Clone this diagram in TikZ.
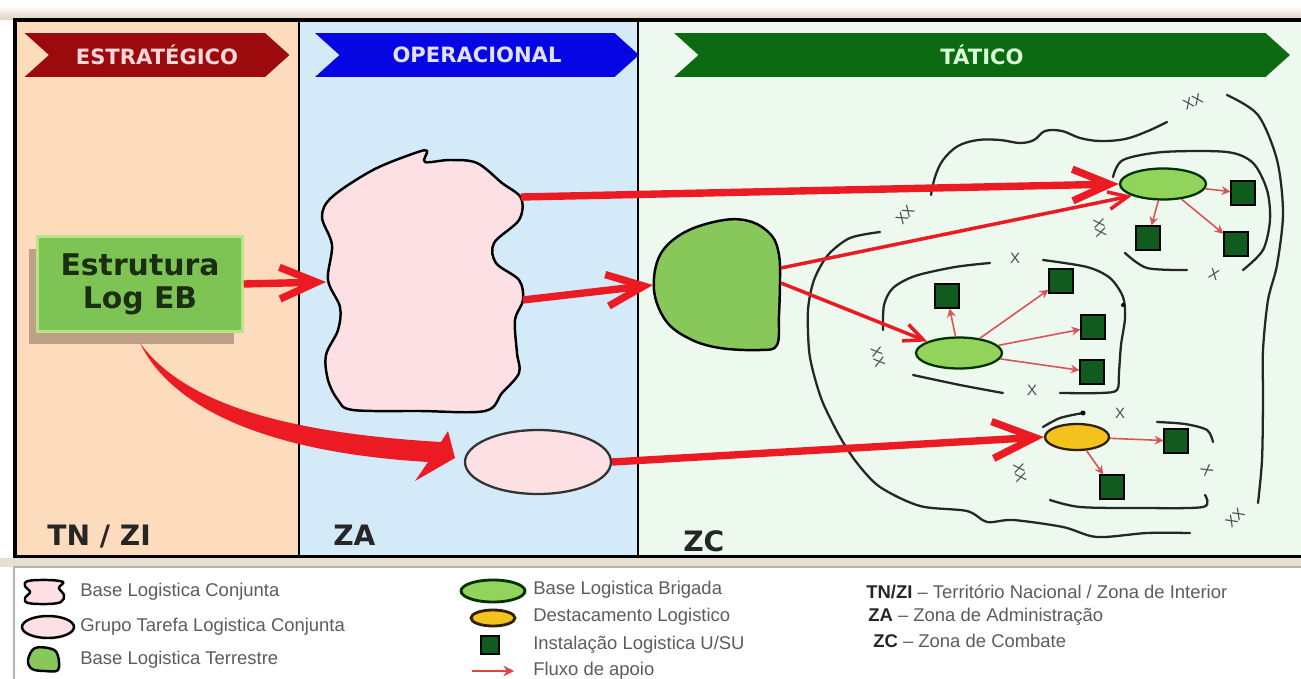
\documentclass[tikz,border=0pt]{standalone}
\usepackage{fontspec}
\setmainfont{Liberation Sans}
\newfontfamily\heavyfont{DejaVu Sans}
\usepackage{tikz}
\usetikzlibrary{
  arrows.meta,
  shapes.geometric,
  shapes.symbols,
  chains,
  positioning,
  scopes,
  shadows
}
\usepackage{color}
\definecolor{framebeige}{HTML}{DDD3BE}
\definecolor{zonepeach}{HTML}{FDDCBD}
\definecolor{zoneblue}{HTML}{D5EAF9}
\definecolor{zonegreen}{HTML}{EDF9EF}
\definecolor{bannerred}{HTML}{9C0A0E}
\definecolor{bannerblue}{HTML}{0606E4}
\definecolor{bannergreen}{HTML}{0C6A12}
\definecolor{cloudpink}{HTML}{FCE0E4}
\definecolor{blobgreen}{HTML}{88C85A}
\definecolor{brigreen}{HTML}{92D35C}
\definecolor{detyellow}{HTML}{F4C21C}
\definecolor{instgreen}{HTML}{105B1E}
\definecolor{flowred}{HTML}{EC1A22}
\definecolor{thinred}{HTML}{DA5456}
\definecolor{legendgrey}{HTML}{5C5C5C}
\definecolor{boxgreen}{HTML}{7EC455}
\definecolor{boxedge}{HTML}{B9E386}
\definecolor{boxtext}{HTML}{1C2E12}
\definecolor{shadowbrown}{HTML}{6E5A48}

\begin{document}
\begin{tikzpicture}[x=0.02cm, y=-0.02cm,
      banner/.style={
         signal, signal from=west, signal to=east,
         signal pointer angle=84,
         minimum height=0.88cm, inner sep=0pt,
         font=\heavyfont\bfseries\fontsize{12}{14}\selectfont
      },
      zone label/.style={
         anchor=base west, inner sep=0pt,
         font=\heavyfont\bfseries\fontsize{16}{18}\selectfont,
         text=black!85
      },
      logbox/.style={
         rectangle,
         minimum width=4.1cm, minimum height=1.9cm,
         fill=boxgreen, draw=boxedge, line width=1.5pt,
         align=center, text=boxtext,
         font=\heavyfont\bfseries\fontsize{17}{18.7}\selectfont,
         drop shadow={shadow xshift=-5pt, shadow yshift=-7pt,
                      fill=shadowbrown, opacity=0.45}
      },
      brigade/.style={
         ellipse, draw=black!80!green, line width=1.3pt, fill=brigreen,
         minimum width=1.72cm, minimum height=0.62cm, inner sep=0pt
      },
      detach/.style={
         ellipse, draw=black!75!brown, line width=1.3pt, fill=detyellow,
         minimum width=1.28cm, minimum height=0.52cm, inner sep=0pt
      },
      inst/.style={
         rectangle, draw=black, line width=0.6pt, fill=instgreen,
         minimum size=0.48cm, inner sep=0pt
      },
      boundary/.style={draw=black!85, line width=1.3pt, line cap=round},
      echelon/.style={inner sep=0pt, text=black!70, font=\fontsize{8.5}{9}\selectfont},
      flow/.style={draw=flowred, line width=4.2pt,
         -{Straight Barb[length=21pt,width=18pt]}},
      subflow/.style={draw=flowred, line width=2pt,
         -{Straight Barb[length=11pt,width=10pt]}},
      supply/.style={draw=thinred, line width=0.9pt,
         -{Stealth[length=5pt,width=5pt]}},
      legend text/.style={anchor=west, inner sep=0pt, text=legendgrey,
         font=\fontsize{10.5}{12}\selectfont},
      every join/.style={supply}
    ]
  \useasboundingbox (0,0) rectangle (1301,679);

  % zones and frame
  \fill[white] (0,0) rectangle (1301,679);
  \shade[top color=white, bottom color=framebeige] (0,6) rectangle (1301,20);
  \fill[zonepeach] (15,20) rectangle (299,557);
  \fill[zoneblue] (299,20) rectangle (638,557);
  \fill[zonegreen] (638,20) rectangle (1305,557);
  \draw[line width=1.8pt] (15,20) rectangle (1310,557);
  \draw[line width=1.3pt] (299,20) -- (299,557) (638,20) -- (638,557);
  \fill[framebeige!70] (0,558) rectangle (1301,567);
  \draw[gray!60, line width=1pt, fill=white] (14,690) -- (14,567) -- (1310,567) -- (1310,690);

  % banners
  \node (bstr) [banner, fill=bannerred, text=red!15, minimum width=5.3cm] at (157,55) {ESTRATÉGICO};
  \node (bope) [banner, fill=bannerblue, text=blue!12, minimum width=6.48cm] at (477,55) {OPERACIONAL};
  \node (btat) [banner, fill=bannergreen, text=green!15, minimum width=12.32cm] at (982,55) {TÁTICO};

  \node (ltn) [zone label] at (47,545) {TN / ZI};
  \node (lza) [zone label] at (333,545) {ZA};
  \node (lzc) [zone label] at (683,551) {ZC};

  % unit boundaries
  \draw[boundary] plot[smooth, tension=0.6] coordinates {(1167,122) (1148,131) (1125,139) (1100,141) (1080,138) (1062,131) (1045,131) (1034,140) (1020,143) (1000,140) (978,140) (958,146) (943,160) (935,177) (931,195)};
  \draw[boundary] plot[smooth] coordinates {(1227,95) (1258,115) (1277,160) (1283,213) (1277,265) (1268,300) (1263,350) (1263,400) (1262,460) (1258,503)};
  \draw[boundary] plot[smooth] coordinates {(880,232) (850,238) (828,255) (814,280) (808,310) (809,350) (814,375) (823,403) (840,437) (857,463) (880,487) (920,506) (967,511) (987,522) (1013,520) (1063,527) (1097,537) (1147,533) (1190,533)};
  \draw[boundary] plot[smooth] coordinates {(1113,177) (1123,160) (1163,152) (1227,152) (1253,163) (1267,190) (1270,220) (1263,250) (1243,270)};
  \draw[boundary] plot[smooth] coordinates {(1125,253) (1147,268) (1187,270)};
  \draw[boundary] plot[smooth] coordinates {(883,330) (884,305) (893,288) (915,276) (955,267) (990,263)};
  \draw[boundary] plot[smooth] coordinates {(1043,260) (1087,267) (1110,278) (1123,297) (1125,318) (1121,345) (1119,372) (1117,390) (1100,393) (1060,393)};
  \draw[boundary] plot[smooth] coordinates {(1003,393) (960,385) (913,375)};
  \draw[boundary] plot[smooth] coordinates {(1043,427) (1060,418) (1083,413)};
  \fill (1083,413) circle[radius=2.5];
  \fill (1123,305) circle[radius=2];
  \draw[boundary] plot[smooth] coordinates {(1157,422) (1185,424) (1207,430) (1213,442)};
  \draw[boundary] plot[smooth] coordinates {(1205,495) (1203,507) (1140,508) (1080,507) (1050,500)};

  \node (e1) [echelon, rotate=25] at (1193,102) {XX};
  \node (e2) [echelon, rotate=50] at (905,215) {XX};
  \node (e3) [echelon, rotate=-80] at (1100,228) {XX};
  \node (e4) [echelon, rotate=-75] at (878,357) {XX};
  \node (e5) [echelon, rotate=-80] at (1020,473) {XX};
  \node (e6) [echelon, rotate=45] at (1235,518) {XX};
  \node (e7) [echelon] at (1015,258) {X};
  \node (e8) [echelon, rotate=-20] at (1214,274) {X};
  \node (e9) [echelon] at (1032,390) {X};
  \node (e10) [echelon] at (1120,413) {X};
  \node (e11) [echelon, rotate=-60] at (1207,470) {X};

  % Estrutura Log EB
  \node (estr) [logbox] at (140,284) {Estrutura\\Log EB};

  % Base Logistica Conjunta
  \draw[line width=1.4pt, fill=cloudpink] plot[smooth cycle, tension=0.55] coordinates {(415,153) (427,151) (425,162) (450,160) (477,163) (502,183) (521,198) (519,220) (494,243) (496,263) (519,280) (523,300) (515,320) (517,353) (519,373) (502,393) (485,411) (420,411) (353,410) (338,400) (328,380) (326,355) (338,330) (340,307) (328,280) (332,245) (322,217) (332,197) (373,170)};
  \coordinate (blc-w) at (326,282);
  \coordinate (blc-ne) at (521,197);
  \coordinate (blc-e) at (523,300);

  % Base Logistica Terrestre
  \draw[line width=1.4pt, fill=blobgreen] plot[smooth cycle, tension=0.6] coordinates {(724,220) (752,222) (772,236) (779,255) (780,280) (779,315) (777,345) (760,350) (720,348) (690,339) (666,321) (654,290) (660,255) (685,232)};
  \coordinate (blt-w) at (653,285);
  \coordinate (blt-ne) at (781,268);
  \coordinate (blt-e) at (781,283);

  % Grupo Tarefa
  \node (gtlc) [ellipse, draw=black!80, line width=1.3pt, fill=cloudpink,
                minimum width=2.92cm, minimum height=1.28cm] at (538,462) {};

  \node (blb1) [brigade] at (1163,184) {};
  \node (blb2) [brigade] at (959,353) {};
  \node (dlog) [detach] at (1077,437) {};

  \node (i1) [inst] at (1243,193) {};
  \node (i2) [inst] at (1148,238) {};
  \node (i3) [inst] at (1236,244) {};
  \node (i4) [inst] at (947,296) {};
  \node (i5) [inst] at (1061,281) {};
  \node (i6) [inst] at (1093,327) {};
  \node (i7) [inst] at (1092,372) {};
  \node (i8) [inst] at (1176,441) {};
  \node (i9) [inst] at (1112,487) {};

  % flows
  \fill[flowred] (140,343) .. controls (180,398) and (270,432) .. (441,442)
     -- (448,431) -- (455,458) -- (415,481) -- (428,462)
     .. controls (260,452) and (170,405) .. (140,343) -- cycle;
  \draw[flow] (estr.east) -- (blc-w);
  \draw[flow] (blc-ne) -- (blb1.west);
  \draw[flow] (blc-e) -- (blt-w);
  \draw[flow, -{Straight Barb[length=24pt,width=21pt]}] (gtlc.east) -- (dlog.west);
  \draw[subflow] (blt-ne) -- (blb1.south west);
  \draw[subflow] (blt-e) -- (blb2.160);

  { [start chain] \chainin (blb1); \chainin (i1) [join]; }
  { [start chain] \chainin (blb1); \chainin (i2) [join]; }
  { [start chain] \chainin (blb1); \chainin (i3) [join]; }
  { [start chain] \chainin (blb2); \chainin (i4) [join]; }
  { [start chain] \chainin (blb2); \chainin (i5) [join]; }
  { [start chain] \chainin (blb2); \chainin (i6) [join]; }
  { [start chain] \chainin (blb2); \chainin (i7) [join]; }
  { [start chain] \chainin (dlog); \chainin (i8) [join]; }
  { [start chain] \chainin (dlog); \chainin (i9) [join]; }

  % legend
  \draw[line width=1.4pt, fill=cloudpink] plot[smooth cycle, tension=0.6] coordinates {(28,581) (48,580) (63,582) (59,588) (64,595) (61,602) (47,604) (28,603) (25,598) (30,592) (25,586)};
  \node (lg2) [ellipse, draw=black, line width=1.4pt, fill=cloudpink, minimum width=1.04cm, minimum height=0.44cm, inner sep=0pt] at (48,627) {};
  \draw[line width=1.4pt, fill=blobgreen] plot[smooth cycle, tension=0.6] coordinates {(35,648) (52,649) (58,656) (58,670) (45,671) (32,669) (28,660)};
  \node (lg4) [brigade, minimum width=1.28cm, minimum height=0.44cm, line width=1.6pt] at (493,591) {};
  \node (lg5) [detach, minimum width=0.88cm, minimum height=0.32cm, line width=1.6pt] at (493,618) {};
  \node (lg6) [inst, minimum size=0.36cm] at (490,645) {};
  \coordinate (lg7a) at (472,671);
  \coordinate (lg7b) at (514,671);
  \draw[draw=thinred!80!red, line width=1.4pt, -{Stealth[length=6pt,width=6pt]}] (lg7a) -- (lg7b);

  \node (t1) [legend text] at (80,592) {Base Logistica Conjunta};
  \node (t2) [legend text] at (80,627) {Grupo Tarefa Logistica Conjunta};
  \node (t3) [legend text] at (80,660) {Base Logistica Terrestre};
  \node (t4) [legend text] at (533,590) {Base Logistica Brigada};
  \node (t5) [legend text] at (533,617) {Destacamento Logistico};
  \node (t6) [legend text] at (533,645) {Instalação Logistica U/SU};
  \node (t7) [legend text] at (533,671) {Fluxo de apoio};
  \node (t8) [legend text] at (866,592) {\textcolor{black!85}{\textbf{TN/ZI}} – Território Nacional / Zona de Interior};
  \node (t9) [legend text] at (868,617) {\textcolor{black!85}{\textbf{ZA}} – Zona de Administração};
  \node (t10) [legend text] at (873,641) {\textcolor{black!85}{\textbf{ZC}} – Zona de Combate};
\end{tikzpicture}
\end{document}
